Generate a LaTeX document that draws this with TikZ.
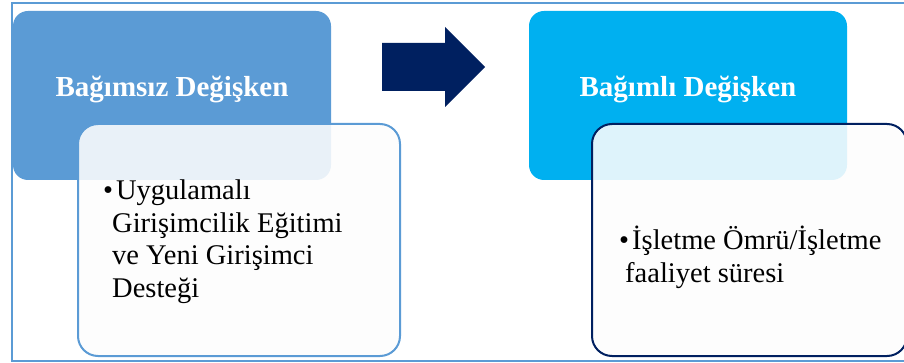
\documentclass[tikz,border=0pt]{standalone}
\usepackage{fontspec}
\setmainfont{Liberation Serif}
\definecolor{frameblue}{HTML}{5B9BD5}
\definecolor{boxblue}{HTML}{5B9BD5}
\definecolor{boxcyan}{HTML}{00B0F0}
\definecolor{navy}{HTML}{002060}
\definecolor{paper}{HTML}{FDFDFD}
\begin{document}
\begin{tikzpicture}[x=1pt,y=-1pt,
  headbox/.style={rounded corners=15pt},
  detailbox/.style={rounded corners=20pt, line width=2pt, fill=paper, fill opacity=0.88},
  headtext/.style={anchor=base, text=white, font=\fontsize{29}{33}\selectfont\bfseries, inner sep=0pt},
  bodytext/.style={anchor=base west, align=left, text=black, font=\fontsize{28.5}{32.5}\selectfont, inner sep=0pt}]
\useasboundingbox (0,0) rectangle (904,363);
\clip (0,0) rectangle (904,363);
% outer frame
\draw[frameblue, line width=2.8pt] (12,3) rectangle (950,361);
% left
\fill[boxblue, headbox] (13,11) rectangle (331,180);
\node[headtext] (h1) at (172,97) {Bağımsız Değişken};
\draw[frameblue, detailbox] (78,124) rectangle (400,356);
\node[bodytext] (b1) at (103,297) {•\hspace{3pt}Uygulamalı\\\hspace*{9pt}Girişimcilik Eğitimi\\\hspace*{9pt}ve Yeni Girişimci\\\hspace*{9pt}Desteği};
% arrow
\fill[navy] (382,43) -- (445,43) -- (445,27) -- (485,67) -- (445,107) -- (445,91) -- (382,91) -- cycle;
% right
\fill[boxcyan, headbox] (529,11) rectangle (847,180);
\node[headtext] (h2) at (688,97) {Bağımlı Değişken};
\draw[navy, detailbox] (592,124) rectangle (907,356);
\node[bodytext] (b2) at (619,282) {•\hspace{3pt}İşletme Ömrü/İşletme\\\hspace*{6pt}faaliyet süresi};
\end{tikzpicture}
\end{document}
